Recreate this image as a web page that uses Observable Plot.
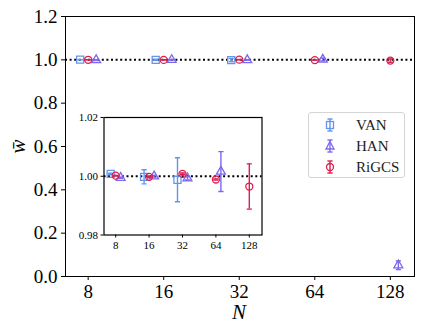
<!DOCTYPE html>
<html>
<head>
<meta charset="utf-8">
<script src="https://cdn.jsdelivr.net/npm/d3@7"></script>
<script src="https://cdn.jsdelivr.net/npm/@observablehq/plot@0.6"></script>
<style>
  html, body { margin: 0; padding: 0; background: white; }
  #wrap { position: relative; width: 423px; height: 334px; font-family: "Liberation Serif", "DejaVu Serif", serif; }
  #wrap svg { position: absolute; left: 0; top: 0; }
  .lab { position: absolute; color: #000; font-style: italic; }
</style>
</head>
<body>
<div id="wrap"></div>
<script>
// ---- data ----
const sizes = [8, 16, 32, 64, 128];
const yTicks = [0, 0.2, 0.4, 0.6, 0.8, 1.0, 1.2];
const insetYTicks = [0.98, 1.00, 1.02];

const vanN = [8, 16, 32];
const vanY = [1.0008, 0.9998, 0.9988];
const vanErr = [0.0002, 0.0024, 0.0075];

const hanN = [8, 16, 32, 64, 128];
const hanY = [0.9995, 1.0000, 0.9993, 1.0016, 0.052];
const hanErr = [0.0002, 0.0003, 0.0006, 0.0068, 0.02];

const rigN = [8, 16, 32, 64, 128];
const rigY = [1.0002, 0.9998, 1.0008, 0.9989, 0.9965];
const rigErr = [0.0001, 0.0002, 0.0003, 0.0002, 0.0077];

const seriesNames = ["VAN", "HAN", "RiGCS"];
const colors = {VAN: "#6495ED", HAN: "#7B68EE", RiGCS: "#DC1E50"};
const symbols = {VAN: "square", HAN: "triangle", RiGCS: "circle"};
const shift = {VAN: -1, HAN: 1, RiGCS: 0};
const radius = {VAN: 4, HAN: 3.3, RiGCS: 3.5};

const rows = [];
vanN.forEach((n, i) => rows.push({s: "VAN", N: n, y: vanY[i], e: vanErr[i]}));
hanN.forEach((n, i) => rows.push({s: "HAN", N: n, y: hanY[i], e: hanErr[i]}));
rigN.forEach((n, i) => rows.push({s: "RiGCS", N: n, y: rigY[i], e: rigErr[i]}));

const cap = {draw(ctx, size) { const w = Math.sqrt(size / Math.PI); ctx.moveTo(-w, 0); ctx.lineTo(w, 0); }};
const FONT = "'Liberation Serif', 'DejaVu Serif', serif";

function seriesMarks(off, clip) {
  const marks = [];
  for (const s of seriesNames) {
    const d = rows.filter(r => r.s === s);
    const xf = r => r.N * Math.pow(2, shift[s] * off);
    const c = colors[s];
    marks.push(Plot.ruleX(d, {x: xf, y1: r => r.y - r.e, y2: r => r.y + r.e, stroke: c, strokeWidth: 1.4, clip}));
    marks.push(Plot.dot(d, {x: xf, y: r => r.y - r.e, symbol: cap, r: 2.6, stroke: c, strokeWidth: 1.4, clip}));
    marks.push(Plot.dot(d, {x: xf, y: r => r.y + r.e, symbol: cap, r: 2.6, stroke: c, strokeWidth: 1.4, clip}));
    marks.push(Plot.dot(d, {x: xf, y: "y", symbol: symbols[s], r: radius[s], stroke: c, fill: "none", strokeWidth: 1.3, clip}));
  }
  return marks;
}

const wrap = document.getElementById("wrap");

// ---- main plot ----
const main = Plot.plot({
  width: 423, height: 334,
  marginLeft: 65, marginRight: 9, marginTop: 16, marginBottom: 58,
  style: {fontFamily: FONT, background: "transparent", overflow: "visible"},
  x: {type: "log", base: 2, domain: [8 * Math.pow(2, -0.3), 128 * Math.pow(2, 0.32)]},
  y: {domain: [0, 1.2]},
  marks: [
    Plot.frame({stroke: "black", strokeWidth: 1}),
    Plot.ruleY([1.0], {stroke: "black", strokeWidth: 2, strokeDasharray: "2,2.6"}),
    ...seriesMarks(0.106, false),
    Plot.axisX({ticks: sizes, tickFormat: d => String(d), tickSize: 4, tickPadding: 4, fontSize: 19, label: null, stroke: "black", color: "black"}),
    Plot.axisY({ticks: yTicks, tickFormat: d => d.toFixed(1), tickSize: 4, tickPadding: 4, fontSize: 19, label: null, stroke: "black", color: "black"})
  ]
});
wrap.appendChild(main);

// ---- inset ----
const inset = Plot.plot({
  width: 423, height: 334,
  marginLeft: 103.5, marginRight: 423 - 261.5, marginTop: 117, marginBottom: 334 - 234.5,
  style: {fontFamily: FONT, background: "transparent", overflow: "visible"},
  x: {type: "log", base: 2, domain: [8 * Math.pow(2, -0.35), 128 * Math.pow(2, 0.38)]},
  y: {domain: [0.98, 1.02]},
  marks: [
    Plot.frame({fill: "white", stroke: "black", strokeWidth: 1.2}),
    Plot.ruleY([1.0], {stroke: "black", strokeWidth: 2, strokeDasharray: "2,2.6"}),
    ...seriesMarks(0.15, true),
    Plot.axisX({ticks: sizes, tickFormat: d => String(d), tickSize: 3, tickPadding: 3, fontSize: 11, label: null, stroke: "black", color: "black"}),
    Plot.axisY({ticks: insetYTicks, tickFormat: d => d.toFixed(2), tickSize: 3, tickPadding: 3, fontSize: 11, label: null, stroke: "black", color: "black"})
  ]
});
wrap.appendChild(inset);

// ---- axis labels ----
const xl = document.createElement("div");
xl.className = "lab";
xl.style.cssText += "left:232px; top:300px; font-size:21px;";
xl.textContent = "N";
wrap.appendChild(xl);

const yl = document.createElement("div");
yl.className = "lab";
yl.style.cssText += "left:6px; top:134px; font-size:21px; transform: rotate(-90deg); transform-origin: 50% 50%; width:24px; text-align:center;";
yl.textContent = "w\u0304";
wrap.appendChild(yl);

// ---- legend ----
const leg = document.createElement("div");
leg.style.cssText = "position:absolute; left:308px; top:112px; width:97px; height:66px; border:1px solid #d5d5d5; border-radius:3px; background:rgba(255,255,255,0.85); box-sizing:border-box;";
seriesNames.forEach((s, i) => {
  const c = colors[s];
  const cy = 12 + i * 21;
  let sym = "";
  if (s === "VAN") sym = `<rect x="-3.5" y="-3.5" width="7" height="7" fill="none" stroke="${c}" stroke-width="1.3"/>`;
  if (s === "HAN") sym = `<path d="M0,-4.5L4,3L-4,3Z" fill="none" stroke="${c}" stroke-width="1.3"/>`;
  if (s === "RiGCS") sym = `<circle r="3.5" fill="none" stroke="${c}" stroke-width="1.3"/>`;
  const svg = `<svg width="20" height="20" style="position:absolute; left:11px; top:${cy - 10}px; overflow:visible"><g transform="translate(10,10)">
    <line x1="0" x2="0" y1="-6" y2="6" stroke="${c}" stroke-width="1.4"/>
    <line x1="-2.6" x2="2.6" y1="-6" y2="-6" stroke="${c}" stroke-width="1.4"/>
    <line x1="-2.6" x2="2.6" y1="6" y2="6" stroke="${c}" stroke-width="1.4"/>
    ${sym}</g></svg>`;
  const t = `<div style="position:absolute; left:47px; top:${cy - 10}px; font-size:15px; line-height:20px; color:#222;">${s}</div>`;
  leg.insertAdjacentHTML("beforeend", svg + t);
});
wrap.appendChild(leg);
</script>
</body>
</html>
